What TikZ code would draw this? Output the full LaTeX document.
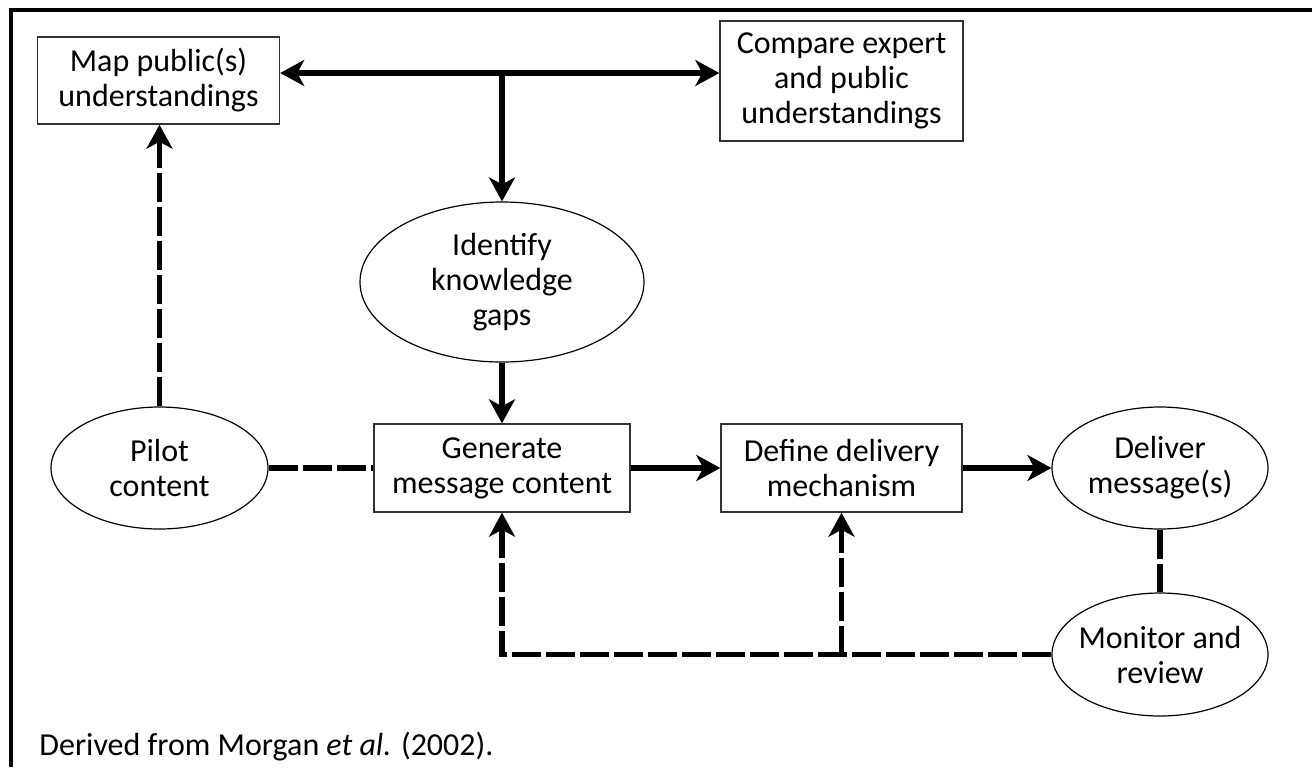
\documentclass[tikz,border=0pt]{standalone}
\usepackage{fontspec}
\setmainfont{Carlito}
\usetikzlibrary{arrows.meta,shapes.geometric}
\begin{document}
\begin{tikzpicture}[x=0.5pt,y=-0.5pt,
  font=\fontsize{16pt}{17.5pt}\selectfont,
  box/.style={draw=black!80, line width=0.7pt, rectangle, align=center, inner sep=0pt},
  oval/.style={draw=black, line width=0.6pt, ellipse, align=center, inner sep=-8pt},
  tip/.style={-{Stealth[length=12pt,width=13pt,inset=3.5pt]}},
  arr/.style={line width=2.7pt, tip},
  link/.style={line width=2.7pt, dash pattern=on 14.5pt off 2.5pt},
  darr/.style={link, tip},
  frame/.style={line width=1.6pt}]
\useasboundingbox (0,0) rectangle (1312,767);
\draw[frame] (11,767) -- (11,10) -- (1312,10);

\node[box, minimum width=121pt, minimum height=43.5pt] (map) at (158.5,80.5) {Map public(s)\\understandings};
\node[box, minimum width=121.5pt, minimum height=60pt] (compare) at (841.5,81) {Compare expert\\and public\\understandings};
\node[oval, minimum width=142pt, minimum height=80pt] (identify) at (502,282) {Identify\\knowledge\\gaps};
\node[oval, minimum width=108.5pt, minimum height=61pt] (pilot) at (159.5,468) {Pilot\\content};
\node[box, minimum width=128pt, minimum height=44pt] (generate) at (502,468) {Generate\\message content};
\node[box, minimum width=120.5pt, minimum height=44pt] (define) at (841.5,468) {Define delivery\\mechanism};
\node[oval, minimum width=108pt, minimum height=61pt] (deliver) at (1160,468) {Deliver\\message(s)};
\node[oval, minimum width=108pt, minimum height=61.5pt] (monitor) at (1160,654.5) {Monitor and\\review};
\node[anchor=base west, inner sep=0pt] (source) at (39,755) {Derived from Morgan \textit{et al.} (2002).};

\coordinate (hub) at (502,73);
\draw[arr] (hub) -- (map.east |- hub);
\draw[arr] (hub) -- (compare.west |- hub);
\draw[arr] (hub) -- (identify.north);
\draw[arr] (identify.south) -- (generate.north);
\draw[arr] (generate.east) -- (define.west);
\draw[arr] (define.east) -- (deliver.west);
\draw[darr] (pilot.north) -- (pilot.north |- map.south);
\draw[link] (pilot.east) -- (generate.west);
\draw[link] (deliver.south) -- (monitor.north);
\draw[darr] (monitor.west) -| (generate.south);
\draw[darr] (define.south |- monitor.west) -- (define.south);
\end{tikzpicture}
\end{document}
